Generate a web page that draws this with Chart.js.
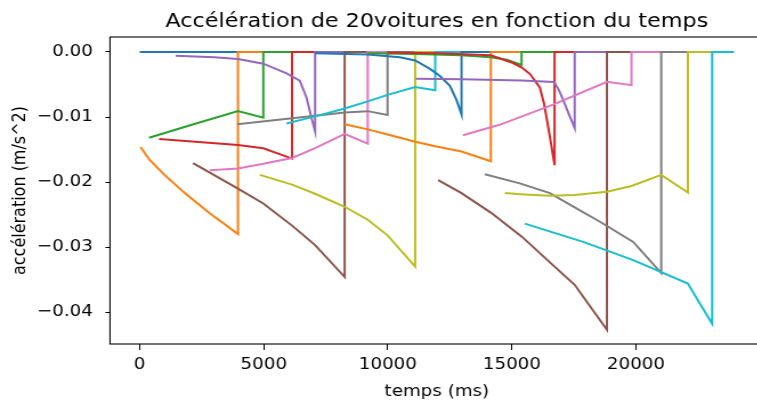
<!DOCTYPE html>
<html>
<head>
<meta charset="utf-8">
<script src="https://cdn.jsdelivr.net/npm/chart.js@4"></script>
<style>
  html, body { margin: 0; padding: 0; background: #fff; overflow: hidden; }
  /* the reference picture is a bit wider than tall, so the canvas is stretched sideways */
  #chart { display: block; width: 770px !important; height: 404px !important; }
</style>
</head>
<body>
<canvas id="chart" width="675" height="404" style="width:770px;height:404px"></canvas>
<script>
const titleText = "Accélération de 20voitures en fonction du temps";
const xLabel = "temps (ms)";
const yLabel = "accélération (m/s^2)";

const xTicks = [0, 5000, 10000, 15000, 20000];
const yTicks = [-0.04, -0.03, -0.02, -0.01, 0];

const colors = ["#1f77b4", "#ff7f0e", "#2ca02c", "#d62728", "#9467bd",
                "#8c564b", "#e377c2", "#7f7f7f", "#bcbd22", "#17becf"];

// one list of times (ms) and one of accelerations per car
const carTimes = [
  [0, 3960],
  [30, 400, 1000, 1815, 2820, 3960, 3960, 4980],
  [375, 2000, 3960, 4980, 4980, 6140],
  [780, 3960, 4980, 6140, 6140, 7070],
  [1450, 3000, 3960, 4980, 5920, 6450, 6720, 6950, 7070, 7070, 8260],
  [2150, 3960, 4980, 6140, 7070, 8260, 8260, 9190],
  [2820, 3960, 4980, 6140, 7070, 8260, 9190, 9190, 9990],
  [3925, 6140, 7070, 8260, 9190, 9990, 9990, 11100],
  [4840, 6140, 7070, 8260, 9190, 9990, 11100, 11100, 11910],
  [5915, 7070, 8260, 9190, 9990, 11100, 11910, 11910, 12970],
  [7070, 9190, 10480, 11100, 11700, 12100, 12500, 12770, 12970, 12970, 14150],
  [8260, 9190, 9990, 11100, 11910, 12970, 14150, 14150, 15390],
  [9190, 11100, 12970, 14150, 14800, 15390, 15390, 16720],
  [9990, 12000, 14150, 15050, 15400, 15730, 16130, 16300, 16530, 16720, 16720, 17530],
  [11130, 13000, 15400, 16700, 16900, 17070, 17300, 17530, 17530, 18830],
  [12030, 12970, 14150, 15400, 16720, 17530, 18830, 18830, 19820],
  [13030, 14500, 16660, 18830, 19820, 19820, 21020],
  [13910, 15320, 16530, 17530, 18550, 19890, 21020, 21020, 22090],
  [14720, 15500, 16530, 17530, 18830, 19820, 21020, 22090, 22090, 23070],
  [15520, 17875, 19890, 22090, 23070, 23070, 23950]
];

const carAccel = [
  [0, 0],
  [-0.0146, -0.0166, -0.0189, -0.0217, -0.0248, -0.0280, 0, 0],
  [-0.0132, -0.0113, -0.0091, -0.0101, 0, 0],
  [-0.0134, -0.0143, -0.0148, -0.0164, 0, 0],
  [-0.0006, -0.0008, -0.0011, -0.0018, -0.0033, -0.0044, -0.0070, -0.0105, -0.0122, 0, 0],
  [-0.0171, -0.0210, -0.0233, -0.0267, -0.0297, -0.0346, 0, 0],
  [-0.0182, -0.0179, -0.0172, -0.0163, -0.0148, -0.0126, -0.0141, 0, 0],
  [-0.0111, -0.0102, -0.0098, -0.0093, -0.0091, -0.0097, 0, 0],
  [-0.0189, -0.0204, -0.0218, -0.0238, -0.0258, -0.0282, -0.0330, 0, 0],
  [-0.0110, -0.0099, -0.0087, -0.0076, -0.0066, -0.0054, -0.0059, 0, 0],
  [-0.0002, -0.0004, -0.0008, -0.0013, -0.0026, -0.0037, -0.0052, -0.0074, -0.0096, 0, 0],
  [-0.0111, -0.0119, -0.0127, -0.0138, -0.0145, -0.0153, -0.0168, 0, 0],
  [-0.0002, -0.0003, -0.0005, -0.0008, -0.0012, -0.0020, 0, 0],
  [-0.0001, -0.0002, -0.0005, -0.0017, -0.0024, -0.0034, -0.0055, -0.0080, -0.0130, -0.0174, 0, 0],
  [-0.0041, -0.0042, -0.0044, -0.0046, -0.0059, -0.0074, -0.0096, -0.0117, 0, 0],
  [-0.0197, -0.0217, -0.0247, -0.0284, -0.0330, -0.0358, -0.0427, 0, 0],
  [-0.0128, -0.0112, -0.0081, -0.0046, -0.0051, 0, 0],
  [-0.0188, -0.0202, -0.0217, -0.0239, -0.0261, -0.0292, -0.0340, 0, 0],
  [-0.0217, -0.0219, -0.0221, -0.0220, -0.0215, -0.0206, -0.0189, -0.0216, 0, 0],
  [-0.0264, -0.0292, -0.0320, -0.0356, -0.0418, 0, 0]
];

Chart.defaults.font.family = '"DejaVu Sans"';
Chart.defaults.color = "#000";

const datasets = carTimes.map((times, i) => ({
  label: "voiture " + (i + 1),
  data: times.map((t, j) => ({ x: t, y: carAccel[i][j] })),
  borderColor: colors[i % 10],
  borderWidth: 2,
  pointRadius: 0,
  tension: 0,
  fill: false,
  order: carTimes.length - i // later cars on top, like matplotlib
}));

// frame round the plot and the title centred over it
const framePlugin = {
  id: "frame",
  afterDraw(chart) {
    const { ctx, chartArea } = chart;
    ctx.save();
    ctx.strokeStyle = "#000";
    ctx.lineWidth = 1.1;
    ctx.strokeRect(chartArea.left, chartArea.top, chartArea.right - chartArea.left, chartArea.bottom - chartArea.top);
    ctx.font = '19.5px "DejaVu Sans"';
    ctx.fillStyle = "#000";
    ctx.textAlign = "center";
    ctx.textBaseline = "alphabetic";
    ctx.fillText(titleText, (chartArea.left + chartArea.right) / 2, chartArea.top - 10.5);
    ctx.restore();
  }
};

function fmtY(v) {
  const s = Math.abs(v).toFixed(2);
  return v < -1e-9 ? "\u2212" + s : s;
}

new Chart(document.getElementById("chart"), {
  type: "line",
  data: { datasets },
  options: {
    responsive: false,
    devicePixelRatio: 1,
    animation: false,
    layout: { padding: { top: 37, right: 5.5, left: 0, bottom: 0 } },
    plugins: { legend: { display: false }, tooltip: { enabled: false }, title: { display: false } },
    scales: {
      x: {
        type: "linear",
        min: -1198,
        max: 25150,
        afterBuildTicks: (scale) => { scale.ticks = xTicks.map((v) => ({ value: v })); },
        afterFit: (scale) => { scale.height = 60; },
        border: { display: false },
        grid: { drawOnChartArea: false, drawTicks: true, tickLength: 6, tickColor: "#000" },
        ticks: { padding: 5, font: { size: 16 }, maxRotation: 0, callback: (v) => String(v) },
        title: { display: true, text: xLabel, font: { size: 16 }, padding: { top: 0, bottom: 3 } }
      },
      y: {
        type: "linear",
        min: -0.0449,
        max: 0.0023,
        afterBuildTicks: (scale) => { scale.ticks = yTicks.map((v) => ({ value: v })); },
        afterFit: (scale) => { scale.width = 96.4; },
        border: { display: false },
        grid: { drawOnChartArea: false, drawTicks: true, tickLength: 4, tickColor: "#000" },
        ticks: { padding: 11, font: { size: 16 }, callback: fmtY },
        title: { display: true, text: yLabel, font: { size: 16 }, padding: { top: 8, bottom: 0 } }
      }
    }
  },
  plugins: [framePlugin]
});
</script>
</body>
</html>
